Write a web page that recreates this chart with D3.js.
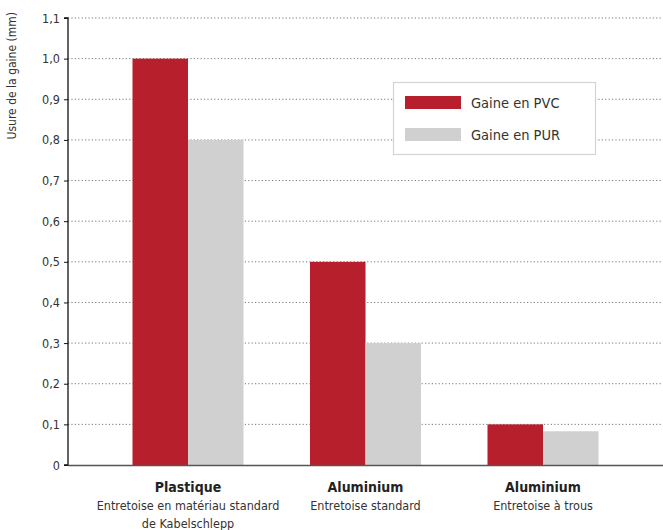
<!DOCTYPE html>
<html><head><meta charset="utf-8">
<script src="https://cdn.jsdelivr.net/npm/d3@7"></script>
<style>
body{margin:0;background:#fff;}
text{font-family:"Liberation Sans Narrow","DejaVu Sans Condensed","Roboto",sans-serif;}
</style></head>
<body><svg id="c" width="663" height="530"></svg>
<script>
const categories = ["Plastique","Aluminium","Aluminium "];
const subtitles = [["Entretoise en matériau standard","de Kabelschlepp"],["Entretoise standard"],["Entretoise à trous"]];
const seriesNames = ["Gaine en PVC","Gaine en PUR"];
const pvcValues = [1.0, 0.5, 0.1];
const purValues = [0.8, 0.3, 0.083];
const yTicks = [0,0.1,0.2,0.3,0.4,0.5,0.6,0.7,0.8,0.9,1.0,1.1];
const yTitle = "Usure de la gaine (mm)";
const colors = ["#b61f2b","#d0d0d0"];

(function(){
const svg = d3.select("#c");
const mLeft=68, mRight=663, mTop=18, mBottom=465;
const y = d3.scaleLinear().domain([0,1.1]).range([mBottom,mTop]);
const x0 = d3.scaleBand().domain(categories).range([99.25,631.75]).padding(0);
const x1 = d3.scaleBand().domain(seriesNames).range([-55.5,55.5]);
const color = d3.scaleOrdinal().domain(seriesNames).range(colors);
const fmt = v => v===0 ? "0" : d3.format(".1f")(v).replace(".",",");

// grid
svg.append("g").selectAll("line").data(yTicks.filter(d=>d>0)).join("line")
  .attr("x1",mLeft).attr("x2",mRight).attr("y1",d=>y(d)).attr("y2",d=>y(d))
  .attr("stroke","#777").attr("stroke-width",1).attr("stroke-dasharray","1.2,2.2");

// bars
const data = categories.map((c,i)=>({cat:c, vals:[pvcValues[i],purValues[i]]}));
const g = svg.append("g").selectAll("g").data(data).join("g")
  .attr("transform",d=>`translate(${x0(d.cat)+x0.bandwidth()/2},0)`);
g.selectAll("rect").data(d=>d.vals.map((v,j)=>({s:seriesNames[j],v}))).join("rect")
  .attr("x",d=>x1(d.s)).attr("width",x1.bandwidth())
  .attr("y",d=>y(d.v)).attr("height",d=>mBottom-y(d.v))
  .attr("fill",d=>color(d.s));

// y axis
const ya = svg.append("g").attr("transform",`translate(${mLeft},0)`)
  .call(d3.axisLeft(y).tickValues(yTicks).tickFormat(fmt).tickSize(4).tickPadding(4));
ya.select(".domain").attr("stroke","#111").attr("stroke-width",1.3).attr("d",`M-4,${mTop}H0V${mBottom}H-4`);
ya.selectAll(".tick line").attr("stroke","#111");
ya.selectAll("text").attr("font-size",12.5).attr("fill","#333").attr("font-family",'"Liberation Sans Narrow","DejaVu Sans Condensed",sans-serif');

// x axis line
svg.append("line").attr("x1",mLeft).attr("x2",mRight).attr("y1",mBottom+0.5).attr("y2",mBottom+0.5)
  .attr("stroke","#555").attr("stroke-width",1.6);

// x labels
const xl = svg.append("g").selectAll("g").data(categories).join("g")
  .attr("transform",d=>`translate(${x0(d)+x0.bandwidth()/2},0)`);
xl.append("text").attr("y",492).attr("text-anchor","middle").attr("font-size",14)
  .attr("font-weight","bold").attr("fill","#222").text(d=>d.trim());
xl.each(function(d,i){
  d3.select(this).selectAll("text.sub").data(subtitles[i]).join("text").attr("class","sub")
    .attr("y",(s,k)=>510+k*18).attr("text-anchor","middle").attr("font-size",12.5)
    .attr("fill","#333").text(s=>s);
});

// y title
svg.append("text").attr("transform","translate(16,12) rotate(-90)").attr("text-anchor","end")
  .attr("font-size",12).attr("fill","#333").text(yTitle);

// legend
const lg = svg.append("g");
lg.append("rect").attr("x",393.5).attr("y",82.5).attr("width",202).attr("height",72)
  .attr("fill","#fff").attr("stroke","#d3d3d3").attr("stroke-width",1.2);
const li = lg.selectAll("g").data(seriesNames).join("g")
  .attr("transform",(d,i)=>`translate(405,${96+i*32})`);
li.append("rect").attr("width",56).attr("height",13).attr("fill",d=>color(d));
li.append("text").attr("x",66).attr("y",12).attr("font-size",14.5).attr("fill","#333").text(d=>d);
})();
</script></body></html>
